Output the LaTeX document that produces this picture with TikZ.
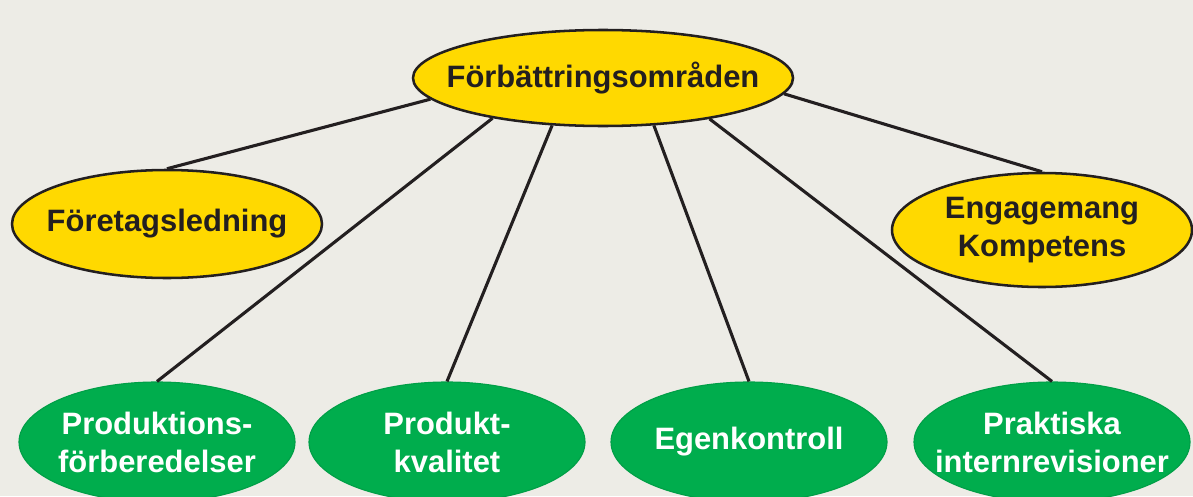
\documentclass[tikz,border=0pt]{standalone}
\usepackage{fontspec}
\setmainfont{Liberation Sans}
\usetikzlibrary{shapes.geometric}
\definecolor{bggray}{RGB}{237,236,230}
\definecolor{ovalyellow}{RGB}{255,217,0}
\definecolor{ovalgreen}{RGB}{0,173,77}
\definecolor{lineblack}{RGB}{35,31,32}

\begin{document}
\begin{tikzpicture}[yellowoval/.style={ellipse,draw=lineblack,line width=1.8pt,fill=ovalyellow,inner xsep=-1cm,inner ysep=0pt,align=center,text=lineblack,font=\fontsize{22}{27}\selectfont\bfseries},
    greenoval/.style={ellipse,draw=ovalgreen!92!black,line width=0.8pt,fill=ovalgreen,inner xsep=-1cm,inner ysep=0pt,minimum width=6.9cm,minimum height=3cm,align=center,text=white,font=\fontsize{22}{27}\selectfont\bfseries},
    link/.style={draw=lineblack,line width=2.2pt}]
    \fill[bggray] (0,0) rectangle (29.825,12.4);
    \useasboundingbox (0,0) rectangle (29.825,12.4);

    \node[yellowoval,minimum width=9.5cm,minimum height=2.4cm] (omr) at (15.075,10.45) {F\"orb\"attringsomr\aa den};
    \node[yellowoval,minimum width=7.75cm,minimum height=2.7cm] (ledning) at (4.175,6.8) {F\"oretagsledning};
    \node[yellowoval,minimum width=7.5cm,minimum height=2.85cm] (engag) at (26.05,6.65) {Engagemang\\Kompetens};

    \node[greenoval] (prodforb) at (3.925,1.35) {Produktions-\\f\"orberedelser};
    \node[greenoval] (prodkval) at (11.175,1.35) {Produkt-\\kvalitet};
    \node[greenoval] (egenk) at (18.725,1.35) {Egenkontroll};
    \node[greenoval] (intrev) at (26.3,1.35) {Praktiska\\internrevisioner};

    \draw[link] (omr.187) -- (ledning.north);
    \draw[link] (omr.200) -- (prodforb.north);
    \draw[link] (omr.223) -- (prodkval.north);
    \draw[link] (omr.317) -- (egenk.north);
    \draw[link] (omr.339) -- (intrev.north);
    \draw[link] (omr.355) -- (engag.north);
\end{tikzpicture}
\end{document}
